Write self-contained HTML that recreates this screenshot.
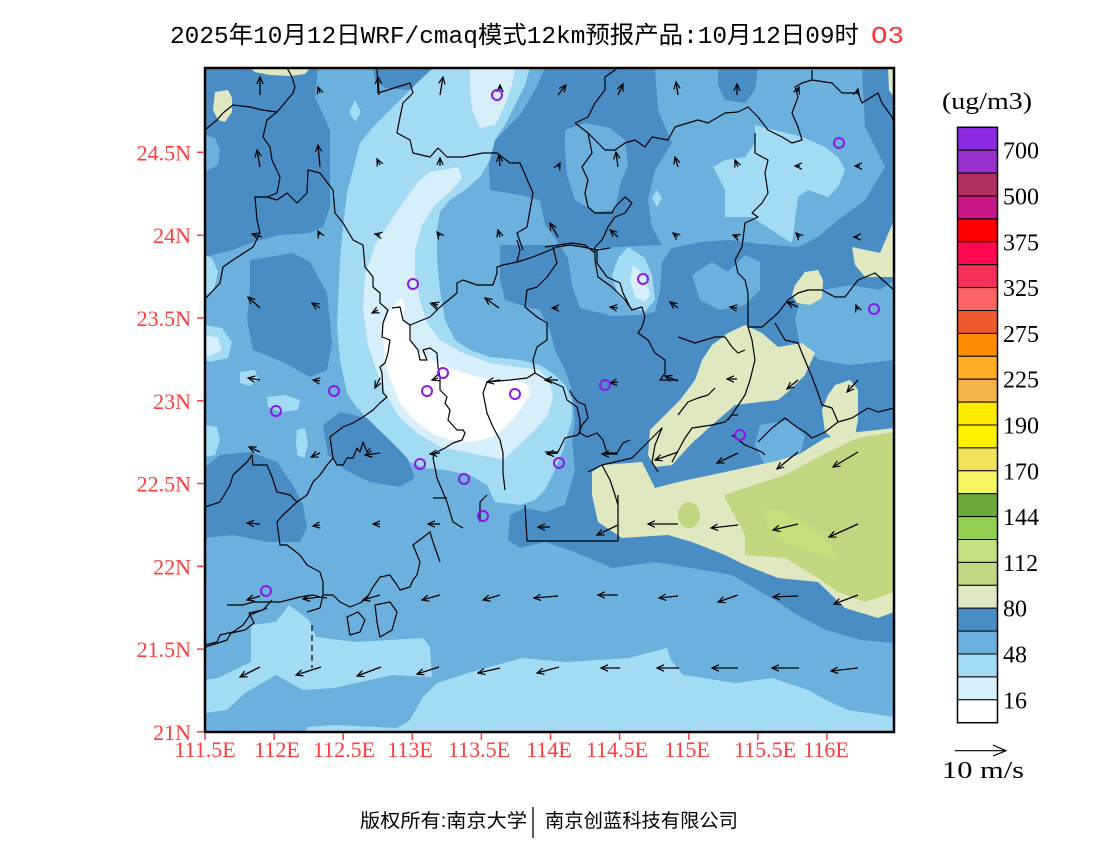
<!DOCTYPE html>
<html><head><meta charset="utf-8"><style>
html,body{margin:0;padding:0;background:#fff;}
svg{display:block;}
.ln{fill:none;stroke:#000;stroke-width:1.2;stroke-linejoin:round;}
.ar{fill:none;stroke:#000;stroke-width:1.3;}
.ci{fill:none;stroke:#8a1ae6;stroke-width:2;}
.ax{font-family:"Liberation Serif",serif;font-size:22px;fill:#ff3b3b;}
.cb{font-family:"Liberation Serif",serif;font-size:24px;fill:#000;}
</style></head><body>
<svg width="1100" height="850" viewBox="0 0 1100 850" xmlns="http://www.w3.org/2000/svg">
<defs>
<clipPath id="pc"><rect x="205" y="68" width="689" height="664"/></clipPath>
<marker id="ah" markerUnits="userSpaceOnUse" markerWidth="9" markerHeight="9" refX="7" refY="4" orient="auto">
<path d="M0,0.8 L7,4 L0,7.2" fill="none" stroke="#000" stroke-width="1.2"/>
</marker>
</defs>
<rect width="1100" height="850" fill="#fff"/>

<text x="170" y="43" font-family="'Liberation Mono','Noto Sans CJK SC',monospace" font-size="24" textLength="689" lengthAdjust="spacingAndGlyphs" fill="#000">2025年10月12日WRF/cmaq模式12km预报产品:10月12日09时</text>
<text x="871" y="43" font-family="'Liberation Mono',monospace" font-size="24" textLength="33" lengthAdjust="spacingAndGlyphs" fill="#ff3030">O3</text>

<g clip-path="url(#pc)">
<rect x="205" y="68" width="689" height="664" fill="#6cb0de"/>
<g fill="#4a8dc4">
<polygon points="205,68 318,68 315,97 330,130 330,207 323,227 310,233 280,235 253,242 233,250 220,253 205,257"/>
<polygon points="250,260 293,253 310,262 327,293 332,343 327,370 310,377 283,362 253,350 247,320 250,287"/>
<polygon points="545,68 655,68 658,110 672,143 655,170 648,200 652,227 662,245 600,248 560,245 545,225 540,200 520,195 490,190 488,150 500,135 520,115 535,90"/>
<polygon points="500,245 560,245 568,258 572,285 580,308 612,316 640,315 655,312 660,290 662,262 672,248 700,242 730,240 760,244 798,247 818,237 838,220 865,200 885,167 865,127 862,68 894,68 894,280 880,290 850,285 822,290 800,300 795,320 800,345 820,360 850,365 894,360 894,643 861,640 826,630 794,613 778,602 732,575 655,562 612,568 575,552 545,542 520,548 508,540 510,515 525,508 545,512 565,505 575,470 572,440 575,420 572,390 565,370 555,350 550,330 540,310 520,305 505,300 500,280"/>
<polygon points="373,68 433,68 425,80 410,90 385,88 375,80"/>
<polygon points="718,68 758,68 755,90 745,103 725,100 718,85"/>
<polygon points="205,467 220,455 250,452 277,462 293,485 303,505 307,528 300,542 267,542 233,535 205,538"/>
</g>
<g fill="#6cb0de">
<polygon points="205,135 215,138 220,150 218,165 205,172"/>
<polygon points="565,130 585,123 610,128 625,140 628,165 620,185 615,210 595,212 575,200 567,175 565,150"/>
<polygon points="692,275 712,262 728,272 745,255 760,262 760,290 745,305 720,310 700,300"/>
<polygon points="760,425 790,420 805,435 800,455 785,468 765,465 755,445"/>
</g>
<g fill="#dfe8c0">
<polygon points="215,92 228,90 232,98 232,112 225,122 218,120 213,110"/>
<polygon points="250,68 310,68 305,74 290,76 270,75 255,72"/>
<polygon points="888,68 894,68 894,97 889,90"/>
<polygon points="852,247 880,253 894,220 894,277 865,277 855,265"/>
<polygon points="795,285 805,272 818,270 823,280 822,298 810,305 797,303 792,295"/>
<polygon points="745,325 762,333 778,347 802,343 815,353 805,375 790,390 778,400 760,402 735,405 712,425 690,445 672,465 655,467 648,455 650,430 660,420 680,400 695,380 702,360 712,345 728,333"/>
<polygon points="835,385 850,380 858,390 858,420 855,435 835,440 825,432 822,410 828,395"/>
<polygon points="592,472 602,465 642,462 655,488 678,482 725,472 772,462 798,455 825,438 858,432 894,428 894,612 878,618 845,608 818,582 778,578 745,565 725,555 692,542 668,535 622,538 598,522 592,495"/>
</g>
<g fill="#c1d77f">
<polygon points="725,495 745,488 785,475 828,452 858,438 894,432 894,592 865,602 838,592 818,578 785,558 745,555 745,535 725,498"/>
<ellipse cx="689" cy="515" rx="11" ry="13"/>
</g>
<polygon fill="#c5df7b" points="765,508 785,512 812,528 828,542 838,560 812,552 785,542 768,528"/>
<g fill="#a3daf4">
<polygon points="433,68 530,68 525,85 515,105 505,125 495,140 490,160 480,177 465,190 450,200 440,212 437,230 437,260 440,290 445,320 455,340 470,350 490,357 520,360 540,365 555,375 565,385 572,400 572,420 563,450 555,470 545,490 535,500 520,505 495,502 487,485 470,475 445,470 425,468 410,462 400,450 388,438 370,422 355,405 347,393 340,360 337,327 340,260 343,227 347,193 353,170 360,143 373,127 407,93 420,80"/>
<polygon points="755,125 802,137 825,147 838,157 845,170 838,187 828,197 808,190 798,197 792,243 782,237 752,217 725,217 725,190 713,167 725,160 745,157 755,143"/>
<polygon points="628,247 645,258 652,275 655,300 645,312 630,307 618,295 612,275 618,258"/>
<polygon points="289,605 309,620 316,637 356,642 423,638 430,647 432,677 392,675 370,680 334,688 303,690 276,675 245,693 227,710 205,713 205,680 218,678 251,662 251,625 276,622"/>
<polygon points="437,683 468,673 522,658 566,662 629,658 667,648 671,660 683,675 736,683 772,678 808,690 826,700 848,710 894,717 894,732 307,732 307,727 334,725 397,728 410,720 423,697"/>
<polygon points="205,425 217,427 220,440 215,455 205,457"/>
<polygon points="267,397 285,395 300,400 298,410 280,412 268,407"/>
<polygon points="240,372 255,370 258,380 250,386 240,383"/>
<polygon points="297,430 305,428 308,445 304,458 297,455 296,440"/>
<polygon points="205,325 222,328 232,342 228,358 210,362 205,360"/>
<polygon points="205,255 212,258 218,272 214,290 205,295"/>
<polygon points="355,100 361,112 355,122 349,112"/>
<polygon points="657,190 662,198 657,207 652,198"/>
</g>
<polygon fill="#4a8dc4" points="323,425 340,412 367,418 387,438 407,458 415,478 400,487 370,482 345,470 328,455"/>
<g fill="#d7eefb">
<polygon points="430,172 458,167 462,178 452,190 435,205 422,225 415,250 415,273 420,300 427,323 440,340 463,353 490,363 517,367 540,370 550,382 553,397 548,415 535,430 517,447 503,460 490,457 470,453 440,447 417,433 400,418 388,398 378,375 368,345 363,310 365,275 375,245 390,222 405,200 418,182"/>
<polygon points="470,68 515,68 512,85 505,105 495,125 480,128 472,110 470,90"/>
<polygon points="633,265 645,275 650,295 645,302 635,297 630,280"/>
<polygon points="205,335 218,338 222,350 210,356 205,355"/>
</g>
<polygon fill="#ffffff" points="402,298 405,307 402,322 410,327 410,340 420,353 433,360 450,368 470,375 490,380 515,380 528,385 530,395 520,410 505,428 490,438 470,442 450,440 435,435 423,427 411,417 400,403 392,383 385,363 383,340 385,323 390,310 397,302"/>

<g class="ln">
<polyline points="205,130 217,120 223,113 233,105 250,107 262,110 277,112 283,105 293,93 295,87 292,77 287,68"/>
<polyline points="277,112 267,120 263,137 270,147 272,160 280,177 277,193 267,197 255,197 257,220 260,233 253,247 233,260 223,267 220,283 207,297 205,298"/>
<polyline points="267,197 277,200 287,193 297,203 307,193 308,170 320,173 333,190 335,213 343,223 353,240 363,245 365,267 373,277 373,287 380,293 380,303 388,310 383,323 382,337 390,340 388,353 385,363 380,367 382,373 383,393 387,397 380,403 373,410 363,417 353,423 343,427 330,437 333,458 327,465 320,475 313,482 307,495 297,502"/>
<polyline points="205,507 220,502 230,485 233,475 247,462 252,455 253,465 267,465 272,477 277,492 290,495 297,502 283,515 277,522 280,545 287,545 300,555 307,565 320,572 323,582 323,595 320,608 307,612"/>
<polyline points="392,308 400,307 403,320 410,325 430,317 437,310 430,303"/>
<polyline points="410,325 410,340 418,350 420,360 427,360 423,350 430,348 437,353 438,367 440,377 440,390 447,397 445,403 450,410 448,420 457,430 463,430 465,433 462,440 453,443 445,448 435,453 433,458 437,478 447,502 453,522 463,528"/>
<polyline points="437,310 440,307 457,293 457,283 463,280 477,285 493,285 497,273 497,267 503,265 517,262 520,250 517,240"/>
<polyline points="517,262 530,258 543,253 557,247 570,245 583,247 597,250 610,248"/>
<polyline points="553,247 557,263 547,277 537,287 527,290 525,307 537,317 547,323 547,340 537,347 533,360 535,373 527,378 510,380 487,382 483,393 487,413 493,427 500,440 503,453 503,473 505,490"/>
<polyline points="597,250 597,263 607,277 620,283 623,293 630,307"/>
<polyline points="535,373 547,380 563,387 567,400 577,407 580,420 580,433 587,437 597,433 603,440 607,453 617,453 623,443 630,440"/>
<polyline points="377,68 378,93 410,83 413,93 403,103 400,117 397,133 410,140 413,153 430,157 438,148 447,157 463,157 483,153 497,153 510,163 520,163 533,193 527,227 517,233 523,250"/>
<polyline points="575,123 588,117 595,103 605,90 605,77 615,70 617,68"/>
<polyline points="575,123 588,133 592,153 582,167 588,180 585,193 588,207 595,213 612,213 615,207 625,197 632,203 625,213 615,217 608,227 602,240 595,247 595,260 598,277 612,287 625,300 632,310 642,307 645,317 642,327 638,333 648,340 655,353 665,360 665,373 660,380 678,380"/>
<polyline points="588,133 605,150 615,150 625,143 635,140 645,147 652,137 668,140 675,127 688,123 698,120 708,123 725,113 738,112 748,107 758,117 768,130 782,137 792,143 802,140 798,127 792,113 798,97 795,87 802,83 812,80 812,70"/>
<polyline points="812,80 832,83 842,93 858,93 862,103 878,93 882,103 892,117 894,123"/>
<polyline points="755,133 755,153 768,160 765,173 768,193 762,203 752,213 758,217 745,223 742,247 735,260 738,273 745,280 748,293 748,327 762,327 778,313 788,300 798,293 808,290 822,290 835,297 845,297 858,280 875,273 894,290"/>
<polyline points="545,247 572,243 585,245 595,253"/>
<polyline points="678,337 695,343 715,337 725,337 732,347 738,353 745,350"/>
<polyline points="775,323 785,340 798,343 802,353 812,377 818,393 822,405 832,408 838,422 852,418 868,408 878,412 894,408"/>
<polyline points="748,327 752,340 755,360 750,380 745,395 735,410 728,420"/>
<polyline points="545,452 558,452 565,438 578,435 582,425 588,418 585,405 578,402 572,395 570,390"/>
<polyline points="588,472 602,465 615,462 632,458 645,445 655,435 662,428 655,445 652,462 658,472"/>
<polyline points="602,465 610,480 615,495 618,505"/>
<polyline points="672,462 685,438 692,428 712,425 725,422 732,415 738,415"/>
<polyline points="678,415 688,402 698,398 708,395 715,388"/>
<polyline points="732,435 745,445 762,452 765,455"/>
<polyline points="758,442 772,428 785,418 798,428 805,432 812,438 825,432 838,422"/>
<polyline points="525,505 527,541 618,541 618,495"/>
<polyline points="205,645 217,642 220,635 233,632 243,625 250,615 267,608"/>
<polyline points="227,605 243,605 253,602 267,602 280,602 300,597 313,595 320,597 327,598"/>
<polyline points="323,595 333,595 340,602 350,607 360,603 367,598 373,587 380,577 390,575 397,585 400,590 410,587 413,580 417,575 420,562 413,545 430,532 433,542 440,562"/>
<polyline points="333,458 337,465 343,465 347,458 353,458 357,448 360,452 363,442 367,452 370,448"/>
<polyline points="433,498 447,498"/>
<polyline points="487,495 480,502 480,522"/>
<polyline points="205,647 218,643 227,640 231,633 245,630 254,623 249,613 263,610 272,600"/>
<polygon points="347,617 358,612 365,620 360,632 350,635"/>
<polygon points="375,605 390,602 397,612 392,630 380,637 377,622"/>
<polyline points="312,625 312,668" stroke-dasharray="6,4"/>
</g>

<g class="ar" marker-end="url(#ah)">
<line x1="260" y1="667" x2="240" y2="677"/><line x1="321" y1="667" x2="296" y2="675"/><line x1="381" y1="667" x2="357" y2="676"/><line x1="439" y1="667" x2="417" y2="674"/><line x1="500" y1="668" x2="478" y2="673"/><line x1="559" y1="667" x2="537" y2="673"/><line x1="620" y1="668" x2="601" y2="668"/><line x1="679" y1="668" x2="657" y2="668"/><line x1="738" y1="668" x2="712" y2="668"/><line x1="799" y1="668" x2="772" y2="668"/><line x1="858" y1="668" x2="831" y2="671"/>
<line x1="260" y1="596" x2="247" y2="600"/><line x1="320" y1="597" x2="303" y2="599"/><line x1="380" y1="595" x2="363" y2="600"/><line x1="440" y1="595" x2="422" y2="600"/><line x1="500" y1="595" x2="483" y2="600"/><line x1="558" y1="596" x2="534" y2="598"/><line x1="618" y1="595" x2="598" y2="595"/><line x1="678" y1="596" x2="659" y2="598"/><line x1="738" y1="595" x2="718" y2="602"/><line x1="798" y1="596" x2="773" y2="597"/><line x1="858" y1="595" x2="834" y2="604"/>
<line x1="260" y1="524" x2="247" y2="523"/><line x1="320" y1="525" x2="313" y2="526"/><line x1="380" y1="524" x2="373" y2="524"/><line x1="440" y1="524" x2="428" y2="524"/><line x1="550" y1="527" x2="538" y2="527"/><line x1="618" y1="525" x2="597" y2="535"/><line x1="678" y1="524" x2="648" y2="524"/><line x1="738" y1="525" x2="711" y2="528"/><line x1="798" y1="524" x2="773" y2="530"/><line x1="858" y1="524" x2="829" y2="537"/>
<line x1="260" y1="452" x2="249" y2="447"/><line x1="320" y1="453" x2="311" y2="457"/><line x1="380" y1="453" x2="365" y2="455"/><line x1="440" y1="453" x2="430" y2="454"/><line x1="558" y1="453" x2="547" y2="454"/><line x1="618" y1="454" x2="602" y2="454"/><line x1="678" y1="452" x2="655" y2="460"/><line x1="738" y1="453" x2="717" y2="463"/><line x1="798" y1="452" x2="777" y2="469"/><line x1="858" y1="452" x2="833" y2="467"/>
<line x1="260" y1="380" x2="248" y2="378"/><line x1="320" y1="381" x2="313" y2="380"/><line x1="380" y1="378" x2="375" y2="388"/><line x1="438" y1="378" x2="432" y2="380"/><line x1="500" y1="380" x2="487" y2="382"/><line x1="558" y1="380" x2="545" y2="380"/><line x1="618" y1="382" x2="610" y2="383"/><line x1="678" y1="381" x2="665" y2="376"/><line x1="737" y1="379" x2="727" y2="379"/><line x1="798" y1="380" x2="787" y2="389"/><line x1="858" y1="380" x2="847" y2="392"/>
<line x1="260" y1="308" x2="248" y2="297"/><line x1="320" y1="308" x2="312" y2="303"/><line x1="378" y1="310" x2="372" y2="313"/><line x1="438" y1="305" x2="432" y2="303"/><line x1="499" y1="308" x2="485" y2="298"/><line x1="558" y1="308" x2="552" y2="308"/><line x1="618" y1="308" x2="610" y2="307"/><line x1="678" y1="308" x2="670" y2="302"/><line x1="737" y1="308" x2="730" y2="307"/><line x1="798" y1="307" x2="787" y2="302"/><line x1="858" y1="310" x2="856" y2="305"/>
<line x1="262" y1="237" x2="252" y2="234"/><line x1="320" y1="235" x2="318" y2="231"/><line x1="380" y1="235" x2="375" y2="234"/><line x1="440" y1="236" x2="437" y2="232"/><line x1="500" y1="237" x2="498" y2="230"/><line x1="558" y1="237" x2="550" y2="223"/><line x1="618" y1="237" x2="610" y2="230"/><line x1="678" y1="237" x2="673" y2="233"/><line x1="738" y1="237" x2="733" y2="235"/><line x1="800" y1="237" x2="796" y2="233"/><line x1="858" y1="237" x2="854" y2="237"/>
<line x1="260" y1="167" x2="257" y2="150"/><line x1="320" y1="167" x2="318" y2="145"/><line x1="380" y1="165" x2="377" y2="159"/><line x1="440" y1="166" x2="440" y2="158"/><line x1="500" y1="166" x2="499" y2="155"/><line x1="558" y1="167" x2="560" y2="163"/><line x1="618" y1="167" x2="616" y2="152"/><line x1="678" y1="167" x2="675" y2="157"/><line x1="738" y1="167" x2="735" y2="160"/><line x1="800" y1="166" x2="795" y2="166"/><line x1="860" y1="166" x2="855" y2="166"/>
<line x1="260" y1="95" x2="260" y2="77"/><line x1="320" y1="93" x2="318" y2="87"/><line x1="379" y1="95" x2="378" y2="77"/><line x1="440" y1="95" x2="443" y2="77"/><line x1="500" y1="92" x2="500" y2="85"/><line x1="558" y1="95" x2="566" y2="85"/><line x1="618" y1="95" x2="623" y2="84"/><line x1="678" y1="95" x2="676" y2="82"/><line x1="737" y1="95" x2="737" y2="84"/><line x1="797" y1="92" x2="799" y2="87"/><line x1="857" y1="93" x2="858" y2="89"/>
</g>

<g class="ci">
<circle cx="497" cy="95" r="5"/><circle cx="839" cy="143" r="5"/><circle cx="413" cy="284" r="5"/><circle cx="643" cy="279" r="5"/><circle cx="874" cy="309" r="5"/><circle cx="443" cy="373" r="5"/><circle cx="334" cy="391" r="5"/><circle cx="427" cy="391" r="5"/><circle cx="515" cy="394" r="5"/><circle cx="605" cy="385" r="5"/><circle cx="276" cy="411" r="5"/><circle cx="740" cy="435" r="5"/><circle cx="420" cy="464" r="5"/><circle cx="559" cy="463" r="5"/><circle cx="464" cy="479" r="5"/><circle cx="483" cy="516" r="5"/><circle cx="266" cy="591" r="5"/>
</g>
</g>
<rect x="205" y="68" width="689" height="664" fill="none" stroke="#000" stroke-width="2.5"/>

<g stroke="#ff3b3b" stroke-width="1.5">
<line x1="205" y1="733" x2="205" y2="740"/><line x1="274.1" y1="733" x2="274.1" y2="740"/><line x1="343.2" y1="733" x2="343.2" y2="740"/><line x1="412.3" y1="733" x2="412.3" y2="740"/><line x1="481.4" y1="733" x2="481.4" y2="740"/><line x1="550.5" y1="733" x2="550.5" y2="740"/><line x1="619.6" y1="733" x2="619.6" y2="740"/><line x1="688.7" y1="733" x2="688.7" y2="740"/><line x1="757.8" y1="733" x2="757.8" y2="740"/><line x1="826.9" y1="733" x2="826.9" y2="740"/>
<line x1="197" y1="152.3" x2="204" y2="152.3"/><line x1="197" y1="235.2" x2="204" y2="235.2"/><line x1="197" y1="318" x2="204" y2="318"/><line x1="197" y1="400.8" x2="204" y2="400.8"/><line x1="197" y1="483.5" x2="204" y2="483.5"/><line x1="197" y1="566.3" x2="204" y2="566.3"/><line x1="197" y1="649.1" x2="204" y2="649.1"/><line x1="197" y1="731.8" x2="204" y2="731.8"/>
</g>
<g class="ax" text-anchor="middle">
<text x="205" y="757">111.5E</text><text x="277" y="757">112E</text><text x="344" y="757">112.5E</text><text x="410" y="757">113E</text><text x="479" y="757">113.5E</text><text x="549" y="757">114E</text><text x="617" y="757">114.5E</text><text x="687" y="757">115E</text><text x="765" y="757">115.5E</text><text x="826" y="757">116E</text>
</g>
<g class="ax" text-anchor="end">
<text x="191" y="160.3">24.5N</text><text x="191" y="243.2">24N</text><text x="191" y="326">23.5N</text><text x="191" y="408.8">23N</text><text x="191" y="491.5">22.5N</text><text x="191" y="574.3">22N</text><text x="191" y="657.1">21.5N</text><text x="191" y="739.8">21N</text>
</g>

<text x="942" y="109" class="cb" font-size="22" textLength="90" lengthAdjust="spacingAndGlyphs">(ug/m3)</text>
<g stroke="#000" stroke-width="1">
<rect x="957.5" y="127.3" width="40" height="22.9" fill="#8a2be2"/>
<rect x="957.5" y="150.2" width="40" height="22.9" fill="#9932cc"/>
<rect x="957.5" y="173.1" width="40" height="22.9" fill="#b03060"/>
<rect x="957.5" y="196.0" width="40" height="22.9" fill="#c71585"/>
<rect x="957.5" y="218.9" width="40" height="22.9" fill="#ff0000"/>
<rect x="957.5" y="241.8" width="40" height="22.9" fill="#ff0a50"/>
<rect x="957.5" y="264.7" width="40" height="22.9" fill="#f5305a"/>
<rect x="957.5" y="287.6" width="40" height="22.9" fill="#fa6464"/>
<rect x="957.5" y="310.5" width="40" height="22.9" fill="#f05a30"/>
<rect x="957.5" y="333.4" width="40" height="22.9" fill="#ff8c00"/>
<rect x="957.5" y="356.3" width="40" height="22.9" fill="#ffae28"/>
<rect x="957.5" y="379.2" width="40" height="22.9" fill="#f5b44b"/>
<rect x="957.5" y="402.1" width="40" height="22.9" fill="#ffea00"/>
<rect x="957.5" y="425.0" width="40" height="22.9" fill="#fff000"/>
<rect x="957.5" y="447.9" width="40" height="22.9" fill="#f3e35a"/>
<rect x="957.5" y="470.8" width="40" height="22.9" fill="#f5f564"/>
<rect x="957.5" y="493.7" width="40" height="22.9" fill="#6aaa3a"/>
<rect x="957.5" y="516.6" width="40" height="22.9" fill="#92d050"/>
<rect x="957.5" y="539.5" width="40" height="22.9" fill="#c4e07e"/>
<rect x="957.5" y="562.4" width="40" height="22.9" fill="#c2d882"/>
<rect x="957.5" y="585.3" width="40" height="22.9" fill="#dfe8c2"/>
<rect x="957.5" y="608.2" width="40" height="22.9" fill="#4a8dc4"/>
<rect x="957.5" y="631.1" width="40" height="22.9" fill="#6cb0de"/>
<rect x="957.5" y="654.0" width="40" height="22.9" fill="#a3daf4"/>
<rect x="957.5" y="676.9" width="40" height="22.9" fill="#d7eefb"/>
<rect x="957.5" y="699.8" width="40" height="22.9" fill="#ffffff"/>
</g>
<rect x="957.5" y="127.3" width="40" height="595.4" fill="none" stroke="#000" stroke-width="1.5"/>
<g class="cb">
<text x="1003" y="158.7">700</text><text x="1003" y="204.5">500</text><text x="1003" y="250.3">375</text><text x="1003" y="296.1">325</text><text x="1003" y="341.9">275</text><text x="1003" y="387.7">225</text><text x="1003" y="433.5">190</text><text x="1003" y="479.3">170</text><text x="1003" y="525.1">144</text><text x="1003" y="570.9">112</text><text x="1003" y="616.7">80</text><text x="1003" y="662.5">48</text><text x="1003" y="708.3">16</text>
</g>
<g stroke="#000" stroke-width="1.2" fill="none">
<line x1="955" y1="750.7" x2="1006" y2="750.7"/>
<polyline points="993,745 1006,750.7 993,756"/>
</g>
<text x="942" y="778" class="cb" font-size="22" textLength="82" lengthAdjust="spacingAndGlyphs">10 m/s</text>

<text x="360" y="827" font-family="'Liberation Sans','Noto Sans CJK SC',sans-serif" font-size="19" textLength="167" lengthAdjust="spacingAndGlyphs" fill="#000">版权所有:南京大学</text>
<line x1="533" y1="807" x2="533" y2="838" stroke="#000" stroke-width="1.3"/>
<text x="545" y="827" font-family="'Liberation Sans','Noto Sans CJK SC',sans-serif" font-size="19" textLength="193" lengthAdjust="spacingAndGlyphs" fill="#000">南京创蓝科技有限公司</text>
</svg>
</body></html>
